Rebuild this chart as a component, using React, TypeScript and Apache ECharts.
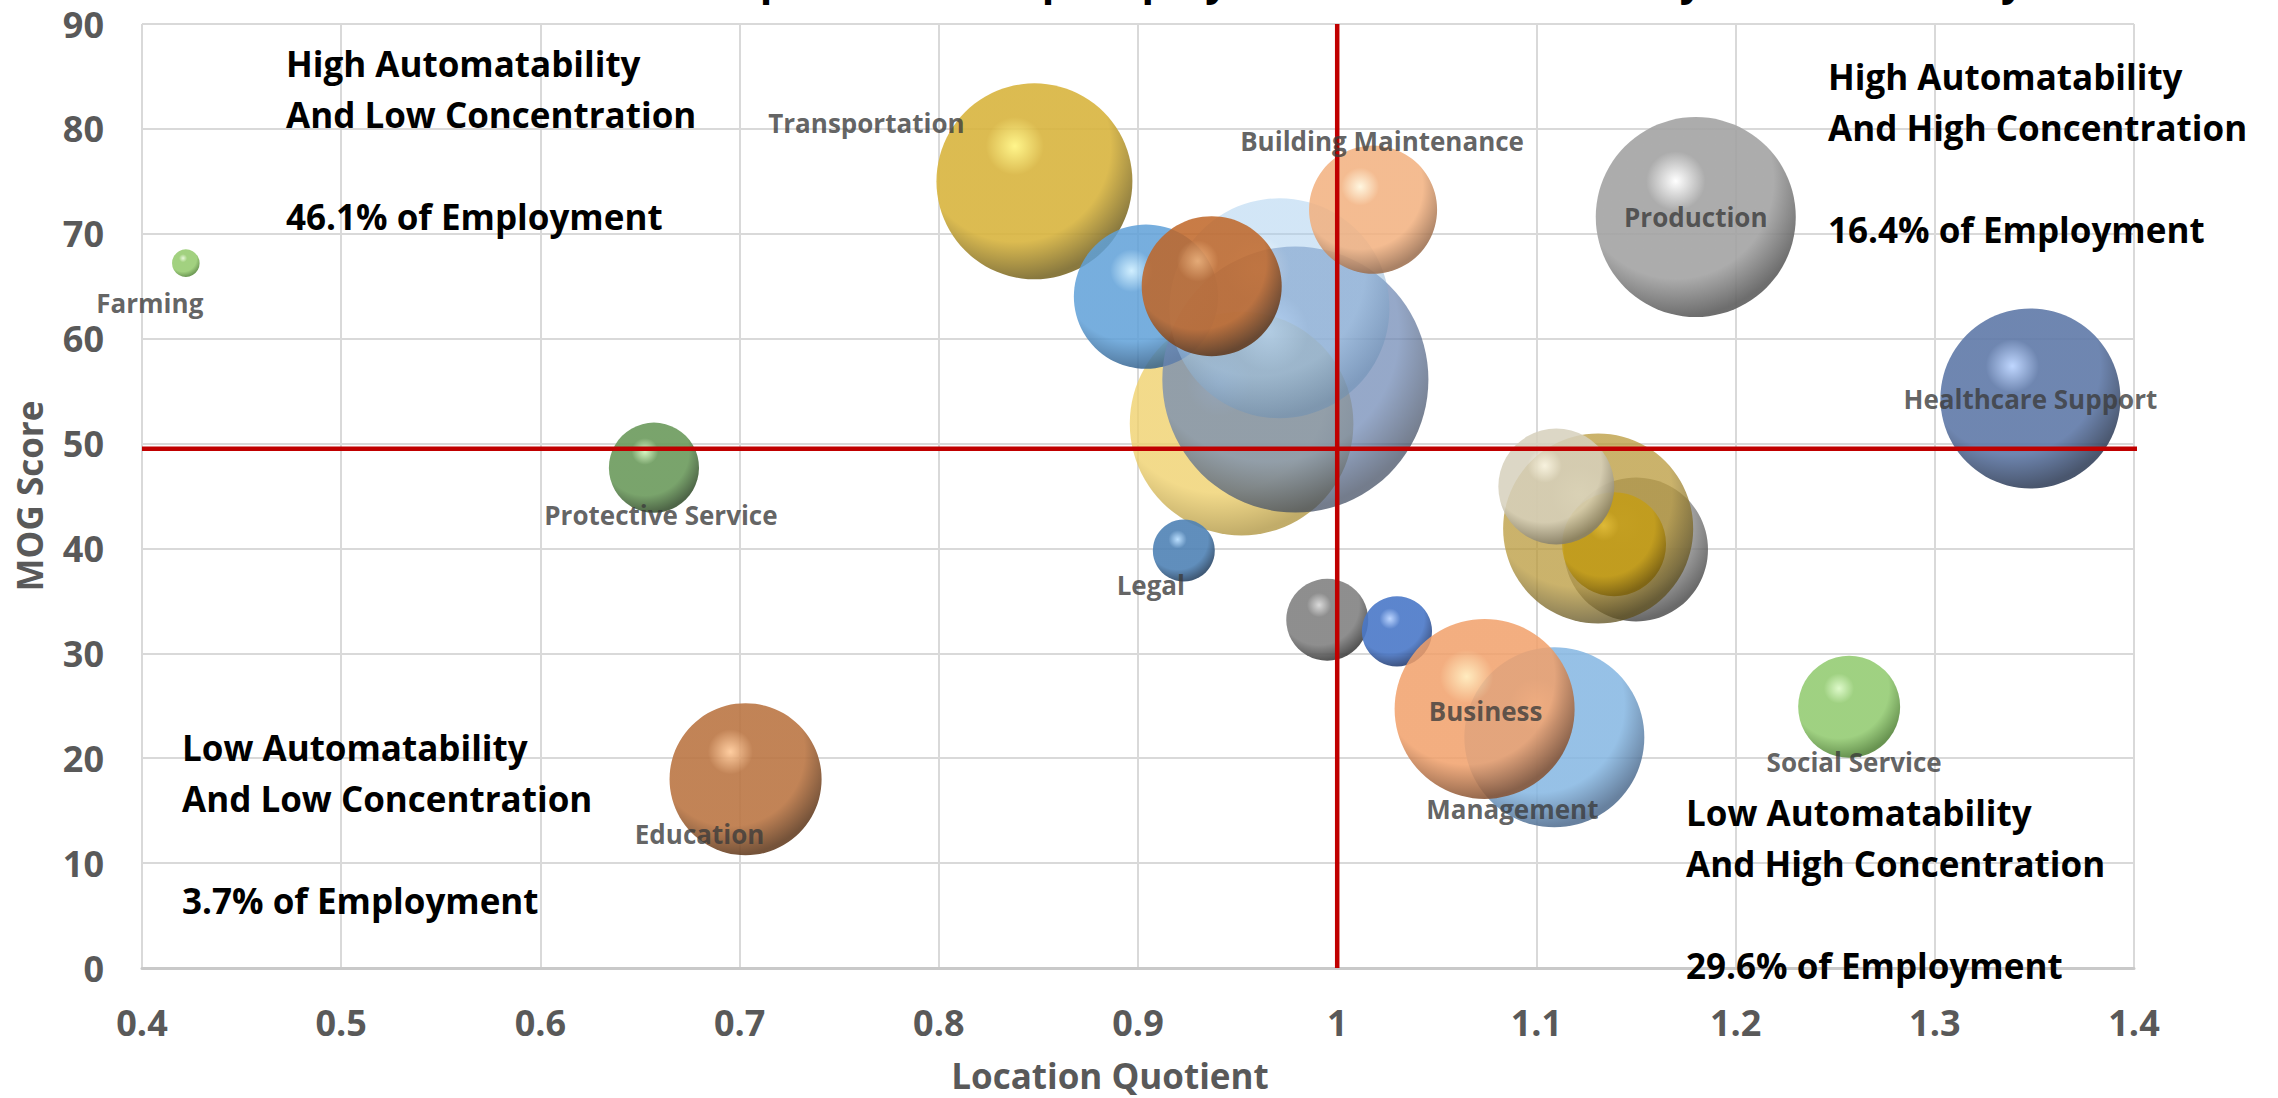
import React, { useEffect, useRef } from 'react';
import * as echarts from 'echarts';

// Occupational groups (blank names are groups drawn without a label)
const occupations = [
  'Farming', 'Transportation', '', '', '', '', '', 'Building Maintenance',
  'Legal', '', '', 'Production', 'Healthcare Support', 'Protective Service',
  'Education', '', '', '', '', 'Management', 'Business', 'Social Service',
];
const locationQuotient = [
  0.422, 0.848, 0.952, 0.904, 0.979, 0.971, 0.937, 1.018,
  0.923, 0.995, 1.03, 1.18, 1.348, 0.657,
  0.703, 1.15, 1.131, 1.139, 1.11, 1.109, 1.074, 1.257,
];
const mogScore = [
  67.2, 75.0, 51.9, 64.0, 56.1, 62.9, 65.0, 72.3,
  39.8, 33.2, 32.1, 71.6, 54.3, 47.7,
  18.0, 39.9, 41.9, 40.4, 45.9, 22.0, 24.7, 24.9,
];
// relative employment, bubble area is proportional to it
const bubbleSize = [
  1.9, 96, 125, 52, 177, 121, 49, 41,
  9.6, 16.8, 12.3, 100, 81, 20.3,
  57.8, 51.8, 90.3, 27, 33.6, 81, 81, 26,
];

const quadrantNotes = [
  'High Automatability\nAnd Low Concentration\n\n46.1% of Employment',
  'High Automatability\nAnd High Concentration\n\n16.4% of Employment',
  'Low Automatability\nAnd Low Concentration\n\n3.7% of Employment',
  'Low Automatability\nAnd High Concentration\n\n29.6% of Employment',
];
const titleText = 'Occupational Group Employment Concentration by Automatability';

const LQ_SPLIT = 1;
const MOG_SPLIT = 49.5;
const MOG_LINE_END = 1.44;

const FONT = '"Open Sans", "Noto Sans", sans-serif';

// sphere shading per bubble: highlight, body, shadow, opacity
const sphereStyles: [string, string, string, number][] = [
  ['#e6f7d6', '#98cc72', '#5e8f43', 0.9],
  ['#fff47e', '#d8b43e', '#7c6a2a', 0.9],
  ['#fff3b8', '#efd06a', '#b0953f', 0.78],
  ['#c8ecff', '#5fa0d8', '#34628e', 0.85],
  ['#a8c4f4', '#6d87b4', '#3e4a60', 0.72],
  ['#e6f6ff', '#a6cdee', '#6a8fb4', 0.5],
  ['#f3a764', '#bf6526', '#5e3416', 0.85],
  ['#fff5da', '#f2b07e', '#9b6c4b', 0.85],
  ['#b4dcff', '#4f82b5', '#2b4868', 0.9],
  ['#d6d6d6', '#828282', '#434343', 0.9],
  ['#b4d0ff', '#4a78c8', '#2a4378', 0.9],
  ['#ffffff', '#a3a3a3', '#5e5e5e', 0.9],
  ['#b8d2ff', '#5f79a8', '#36445e', 0.9],
  ['#d2f5bd', '#6b9a5c', '#3b5533', 0.9],
  ['#ffc896', '#bb7644', '#664024', 0.9],
  ['#c6c6c6', '#8a8a8a', '#444444', 0.8],
  ['#e6cc6a', '#b9993a', '#5e4f1c', 0.75],
  ['#e8c030', '#c59d12', '#7c6008', 0.8],
  ['#fffdf2', '#d6d0bc', '#857f6c', 0.85],
  ['#d9eeff', '#84b6e2', '#4d6b8e', 0.85],
  ['#ffe8b4', '#f1a06a', '#85502f', 0.85],
  ['#daf9c4', '#95cc74', '#58883e', 0.9],
];

// label placement relative to the bubble centre, in pixels
const labelOffsets: Record<string, [number, number]> = {
  'Farming': [-36, 40],
  'Transportation': [-168, -58],
  'Building Maintenance': [9, -69],
  'Legal': [-33, 34],
  'Production': [0, 0],
  'Healthcare Support': [0, 1],
  'Protective Service': [7, 47],
  'Education': [-46, 55],
  'Management': [-42, 72],
  'Business': [1, 2],
  'Social Service': [5, 55],
};

function sphereFill(hi: string, body: string, shade: string) {
  return new echarts.graphic.RadialGradient(0.4, 0.32, 0.74, [
    { offset: 0, color: hi },
    { offset: 0.2, color: body },
    { offset: 0.66, color: body },
    { offset: 0.92, color: shade },
    { offset: 1, color: shade },
  ]);
}

function buildOption(): echarts.EChartsOption {
  const bubbleData = occupations.map((name, i) => {
    const [hi, body, shade, opacity] = sphereStyles[i];
    return {
      name,
      value: [locationQuotient[i], mogScore[i], bubbleSize[i]],
      itemStyle: { color: sphereFill(hi, body, shade), opacity },
    };
  });

  const labelData = occupations
    .map((name, i) => ({ name, i }))
    .filter((d) => d.name !== '')
    .map(({ name, i }) => ({
      name,
      value: [locationQuotient[i], mogScore[i]],
      label: { offset: labelOffsets[name] },
    }));

  const tickText = {
    fontSize: 36,
    fontWeight: 'bold' as const,
    color: '#595959',
    fontFamily: FONT,
  };
  const axisTitle = {
    fontSize: 35,
    fontWeight: 'bold' as const,
    color: '#595959',
    fontFamily: FONT,
    lineHeight: 35,
  };
  const noteStyle = {
    fontSize: 35,
    fontWeight: 'bold',
    fontFamily: FONT,
    fill: '#000000',
    lineHeight: 51,
    align: 'left',
    verticalAlign: 'top',
  };
  const notePos: [number, number][] = [
    [286, 38],
    [1828, 51],
    [182, 722],
    [1686, 787],
  ];

  return {
    animation: false,
    backgroundColor: '#ffffff',
    textStyle: { fontFamily: FONT },
    grid: { left: 142, right: 144, top: 24, bottom: 129 },
    xAxis: {
      type: 'value',
      min: 0.4,
      max: 1.4,
      interval: 0.1,
      name: 'Location Quotient',
      nameLocation: 'middle',
      nameGap: 90,
      nameTextStyle: { ...axisTitle, padding: [0, 56, 0, 0] },
      axisLine: { show: true, lineStyle: { color: '#c9c9c9', width: 3 } },
      axisTick: { show: false },
      axisLabel: {
        ...tickText,
        margin: 36,
        lineHeight: 36,
        formatter: (v: number) => String(Math.round(v * 10) / 10),
      },
      splitLine: { show: true, lineStyle: { color: '#d9d9d9', width: 2 } },
    },
    yAxis: {
      type: 'value',
      min: 0,
      max: 90,
      interval: 10,
      name: 'MOG Score',
      nameLocation: 'middle',
      nameGap: 95,
      nameTextStyle: axisTitle,
      axisLine: { show: false },
      axisTick: { show: false },
      axisLabel: { ...tickText, margin: 38 },
      splitLine: { show: true, lineStyle: { color: '#d9d9d9', width: 2 } },
    },
    series: [
      {
        type: 'scatter',
        z: 2,
        silent: true,
        symbol: 'circle',
        symbolSize: (v: number[]) => 20 * Math.sqrt(v[2]),
        data: bubbleData,
        emphasis: { disabled: true },
      },
      {
        type: 'line',
        z: 3,
        silent: true,
        clip: false,
        symbol: 'none',
        lineStyle: { color: '#c00000', width: 4.5 },
        data: [
          [LQ_SPLIT, 0],
          [LQ_SPLIT, 90],
        ],
      },
      {
        type: 'line',
        z: 3,
        silent: true,
        clip: false,
        symbol: 'none',
        lineStyle: { color: '#c00000', width: 4.5 },
        data: [
          [0.4, MOG_SPLIT],
          [MOG_LINE_END, MOG_SPLIT],
        ],
      },
      {
        type: 'scatter',
        z: 4,
        silent: true,
        symbolSize: 1,
        itemStyle: { color: 'transparent' },
        label: {
          show: true,
          formatter: '{b}',
          position: 'inside',
          fontSize: 26,
          fontWeight: 'bold',
          color: '#3b3b3b',
          fontFamily: FONT,
        },
        emphasis: { disabled: true },
        data: labelData,
      },
    ],
    graphic: [
      ...quadrantNotes.map((text, i) => ({
        type: 'text' as const,
        x: notePos[i][0],
        y: notePos[i][1],
        z: 10,
        silent: true,
        style: { text, ...noteStyle },
      })),
      {
        type: 'text' as const,
        x: 658,
        y: -21,
        z: 10,
        silent: true,
        style: {
          text: titleText,
          fontSize: 41,
          fontWeight: 'bold',
          fontFamily: FONT,
          fill: '#000000',
          align: 'left',
          verticalAlign: 'middle',
        },
      },
    ],
  } as echarts.EChartsOption;
}

export default function App() {
  const ref = useRef<HTMLDivElement>(null);

  useEffect(() => {
    if (!ref.current) return;
    const chart = echarts.init(ref.current, undefined, { renderer: 'svg' });
    chart.setOption(buildOption());
    return () => chart.dispose();
  }, []);

  return (
    <div
      ref={ref}
      style={{
        position: 'fixed',
        left: 0,
        top: 0,
        width: 2278,
        height: 1098,
        background: '#ffffff',
      }}
    />
  );
}
